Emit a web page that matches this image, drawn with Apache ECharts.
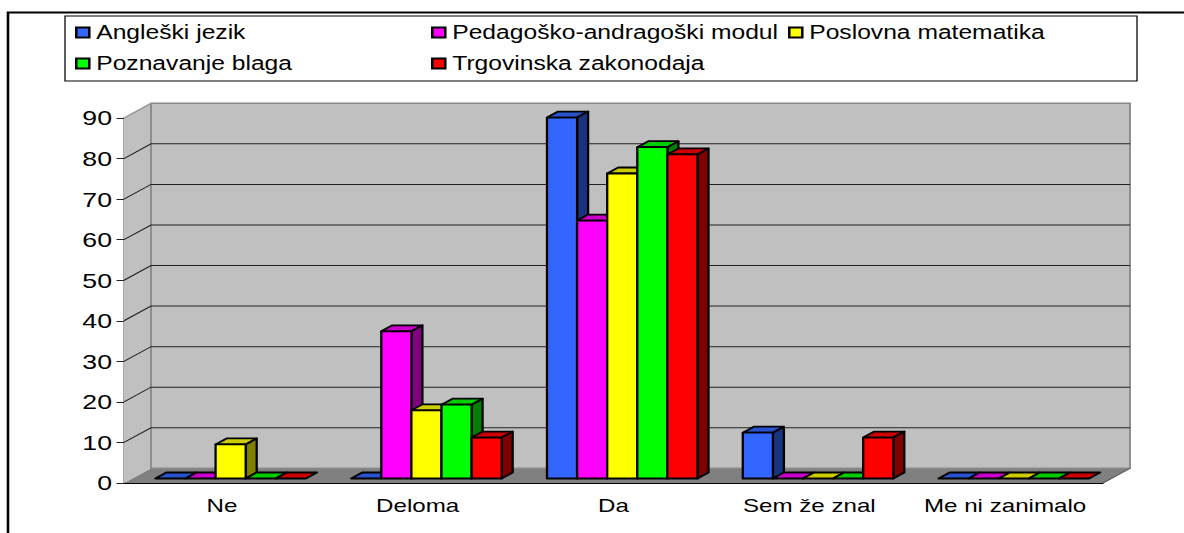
<!DOCTYPE html>
<html>
<head>
<meta charset="utf-8">
<style>
html,body{margin:0;padding:0;background:#fff;overflow:hidden;width:1184px;height:533px}
/* the reference is a picture stretched sideways, so the whole chart is too */
#main{width:932px;height:533px;transform:scaleX(1.27039);transform-origin:0 0}
</style>
<script src="https://cdn.jsdelivr.net/npm/echarts@6/dist/echarts.min.js"></script>
</head>
<body>
<div id="main"></div>
<script>
const categories = ['Ne', 'Deloma', 'Da', 'Sem že znal', 'Me ni zanimalo'];
const yTicks = [0, 10, 20, 30, 40, 50, 60, 70, 80, 90];
const seriesNames = ['Angleški jezik', 'Pedagoško-andragoški modul', 'Poslovna matematika', 'Poznavanje blaga', 'Trgovinska zakonodaja'];
const anglesky = [0, 0, 89, 11.3, 0];
const pedagoski = [0, 36.3, 63.6, 0, 0];
const poslovna = [8.4, 16.8, 75.2, 0, 0];
const poznavanje = [0, 18.2, 81.7, 0, 0];
const trgovinska = [0, 10.1, 79.9, 10.1, 0];
const seriesValues = [anglesky, pedagoski, poslovna, poznavanje, trgovinska];
const front = ['#3366ff', '#ff00ff', '#ffff00', '#00ff00', '#ff0000'];
const top3d = ['#2952cc', '#cc00cc', '#cccc00', '#00cc00', '#cc0000'];
const side = ['#1a3380', '#800080', '#808000', '#008000', '#800000'];

var chartDom = document.getElementById('main');
var myChart = echarts.init(chartDom, null, { renderer: 'svg' });

const FONT = '"Liberation Sans", Arial, sans-serif';
const S = 1184 / 932;
const sx = function (v) { return v / S; };   // page px -> chart px, horizontally
const depthX = sx(27), depthY = 14.7;
const barW = sx(30.1), barDX = sx(11), barDY = 6;
const barStart = sx(66.5), barOffY = 4.5;

function renderWall(params, api) {
    const band = api.size([1, 0])[0];
    const xl = api.coord([0, 0])[0] - band / 2;
    const xr = api.coord([4, 0])[0] + band / 2;
    const yb = api.coord([0, 0])[1];
    const yt = api.coord([0, 90])[1];
    const children = [
        { type: 'polygon', shape: { points: [[xl, yb], [xl + depthX, yb - depthY], [xr + depthX, yb - depthY], [xr, yb]] }, style: { fill: '#808080' } },
        { type: 'polygon', shape: { points: [[xl, yb], [xl, yt], [xl + depthX, yt - depthY], [xl + depthX, yb - depthY]] }, style: { fill: '#c0c0c0' } },
        { type: 'rect', shape: { x: xl + depthX, y: yt - depthY, width: xr - xl, height: yb - yt }, style: { fill: '#c0c0c0', stroke: '#8a8a8a', lineWidth: 1.5 } },
        { type: 'polyline', shape: { points: [[xl, yt], [xl + depthX, yt - depthY]] }, style: { fill: null, stroke: '#999', lineWidth: 1.5 } },
        { type: 'polyline', shape: { points: [[xr + depthX, yb - depthY], [xr, yb]] }, style: { fill: null, stroke: '#555', lineWidth: 1 } }
    ];
    yTicks.slice(1, -1).forEach(function (t) {
        const y = api.coord([0, t])[1];
        children.push({ type: 'polyline', shape: { points: [[xl, y], [xl + depthX, y - depthY], [xr + depthX, y - depthY]] }, style: { fill: null, stroke: '#222', lineWidth: 1 } });
    });
    return { type: 'group', children };
}

function renderBar(params, api) {
    const s = params.seriesIndex - 1;
    const p = api.coord([api.value(0), api.value(1)]);
    const b = api.coord([api.value(0), 0]);
    const x = b[0] - barStart + s * barW;
    const yb = b[1] - barOffY;
    const yt = p[1] - barOffY;
    const line = { stroke: '#000', lineWidth: 1.8, lineJoin: 'round' };
    const children = [
        { type: 'polygon', shape: { points: [[x, yt], [x + barDX, yt - barDY], [x + barW + barDX, yt - barDY], [x + barW, yt]] }, style: Object.assign({ fill: top3d[s] }, line) }
    ];
    if (yb - yt > 0.5) {
        children.push(
            { type: 'polygon', shape: { points: [[x + barW, yb], [x + barW, yt], [x + barW + barDX, yt - barDY], [x + barW + barDX, yb - barDY]] }, style: Object.assign({ fill: side[s] }, line) },
            { type: 'rect', shape: { x: x, y: yt, width: barW, height: yb - yt }, style: Object.assign({ fill: front[s] }, line) }
        );
    }
    return { type: 'group', children };
}

function legendAt(name, left, top) {
    return {
        data: [name], left: sx(left), top, orient: 'horizontal', selectedMode: false, padding: 0,
        icon: 'rect', itemWidth: sx(13), itemHeight: 10, itemGap: 0,
        textStyle: { fontFamily: FONT, fontSize: 19.4, color: '#000', padding: [0, 0, 0, 0.5], lineHeight: 16 }
    };
}

var option = {
    animation: false,
    backgroundColor: '#fff',
    graphic: [
        { type: 'polyline', shape: { points: [[sx(8), 533], [sx(8), 12.5], [932, 12.5]] }, style: { fill: null, stroke: '#000', lineWidth: 2 }, silent: true },
        { type: 'rect', shape: { x: sx(65), y: 16, width: sx(1072), height: 65 }, style: { fill: '#fff', stroke: '#000', lineWidth: 1 }, silent: true }
    ],
    legend: [
        legendAt(seriesNames[0], 75, 23),
        legendAt(seriesNames[1], 431, 23),
        legendAt(seriesNames[2], 788, 23),
        legendAt(seriesNames[3], 75, 54),
        legendAt(seriesNames[4], 431, 54)
    ],
    grid: { left: sx(124), right: sx(81), top: 118, bottom: 50 },
    xAxis: {
        type: 'category',
        data: categories,
        axisLine: { lineStyle: { color: '#000', width: 1 } },
        axisTick: { length: 6, alignWithLabel: false, lineStyle: { color: '#222' } },
        axisLabel: { interval: 0, fontFamily: FONT, fontSize: 19, color: '#000', margin: 13 }
    },
    yAxis: {
        type: 'value',
        min: 0,
        max: 90,
        interval: 10,
        splitLine: { show: false },
        axisLine: { show: true, lineStyle: { color: '#444', width: 1.5 } },
        axisTick: { show: true, length: sx(7.5), lineStyle: { color: '#222' } },
        axisLabel: { fontFamily: FONT, fontSize: 21, color: '#000', margin: sx(12) }
    },
    series: [
        { type: 'custom', silent: true, clip: false, z: 1, renderItem: renderWall, data: [[0, 0]], encode: { x: 0, y: 1 } }
    ].concat(seriesNames.map(function (name, i) {
        return {
            name,
            type: 'custom',
            z: 2,
            clip: false,
            renderItem: renderBar,
            itemStyle: { color: front[i], borderColor: '#000', borderWidth: 1.5 },
            encode: { x: 0, y: 1 },
            data: seriesValues[i].map(function (v, c) { return [c, v]; })
        };
    }))
};
option && myChart.setOption(option);
</script>
</body>
</html>
